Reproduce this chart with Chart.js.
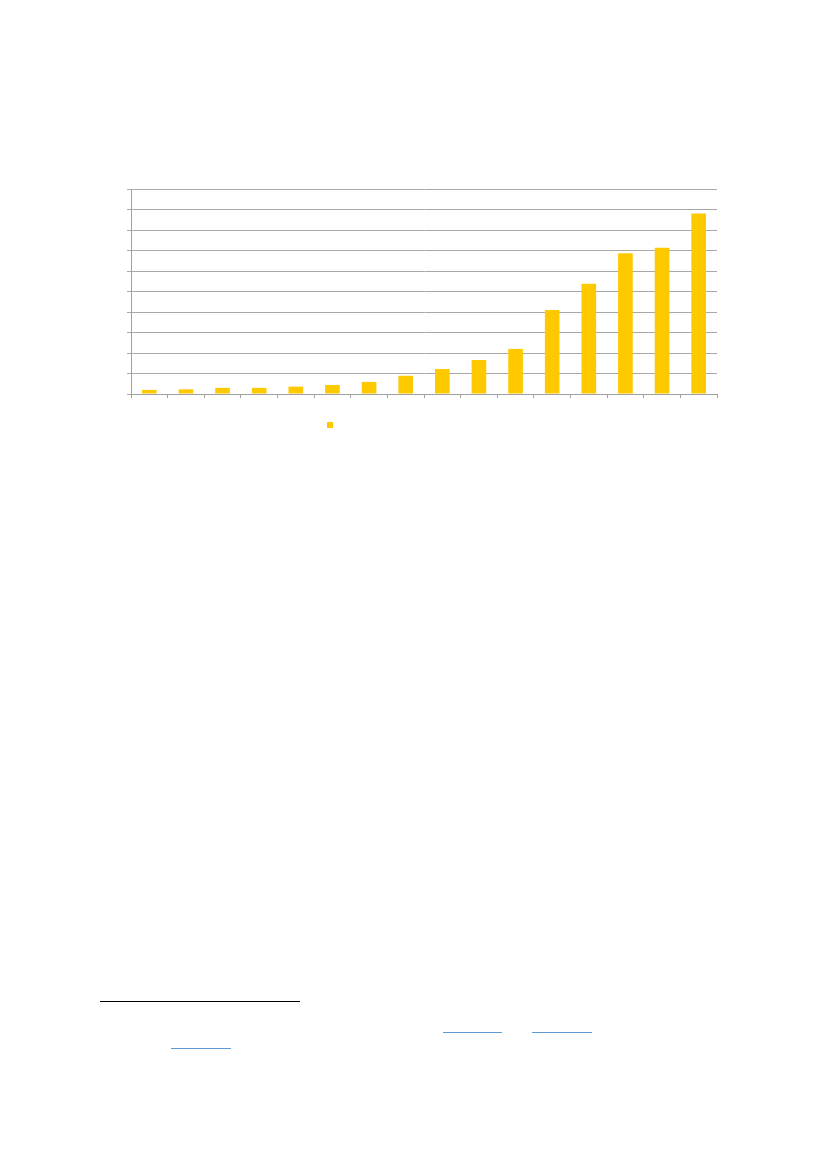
<!DOCTYPE html>
<html>
<head>
<meta charset="utf-8">
<script src="https://cdn.jsdelivr.net/npm/chart.js@4"></script>
<style>
  html, body { margin: 0; padding: 0; background: #ffffff; }
  body { width: 827px; height: 1169px; position: relative; overflow: hidden; font-family: "Liberation Sans", Arial, sans-serif; }
  #wrap { position: absolute; left: -100px; top: 0; width: 927px; height: 500px; }
  .rule { position: absolute; height: 0; }
  .fn { left: 100px; top: 1001px; width: 200px; border-top: 1px solid #000; }
  .lnk { border-top: 1px solid #5b9bd5; }
</style>
</head>
<body>
<div id="wrap"><canvas id="c" width="927" height="500"></canvas></div>
<div class="rule fn"></div>
<div class="rule lnk" style="left:443px; top:1032px; width:59px;"></div>
<div class="rule lnk" style="left:532px; top:1032px; width:60px;"></div>
<div class="rule lnk" style="left:171px; top:1048px; width:60px;"></div>
<script>
const categories = ["", "", "", "", "", "", "", "", "", "", "", "", "", "", "", ""];
const seriesName = "";
const seriesValues = [0.2, 0.23, 0.3, 0.3, 0.36, 0.44, 0.59, 0.89, 1.22, 1.66, 2.2, 4.1, 5.38, 6.86, 7.14, 8.8];
const yMin = 0;
const yMax = 10;
const yStep = 1;

new Chart(document.getElementById('c'), {
  type: 'bar',
  data: {
    labels: categories,
    datasets: [{
      label: seriesName,
      data: seriesValues,
      backgroundColor: '#FFC900',
      borderWidth: 0,
      categoryPercentage: 1.0,
      barPercentage: 0.40
    }]
  },
  options: {
    responsive: false,
    animation: false,
    layout: { padding: { left: 49, right: 110, top: 189, bottom: 59 } },
    plugins: {
      tooltip: { enabled: false },
      legend: {
        display: true,
        position: 'bottom',
        labels: { boxWidth: 6, boxHeight: 6, padding: 20, font: { size: 12 }, color: '#000' }
      }
    },
    scales: {
      x: {
        offset: true,
        grid: { display: true, drawOnChartArea: false, drawTicks: true, tickLength: 4, color: '#a0a0a0', offset: true },
        border: { display: true, color: '#a0a0a0', width: 1 },
        ticks: { display: false },
        afterFit: (s) => { s.height = 5; }
      },
      y: {
        min: yMin,
        max: yMax,
        ticks: { display: false, stepSize: yStep },
        grid: { display: true, drawTicks: true, tickLength: 4, color: '#a8a8a8', lineWidth: 1 },
        border: { display: true, color: '#a0a0a0', width: 1 },
        afterFit: (s) => { s.width = 182; }
      }
    }
  }
});
</script>
</body>
</html>
